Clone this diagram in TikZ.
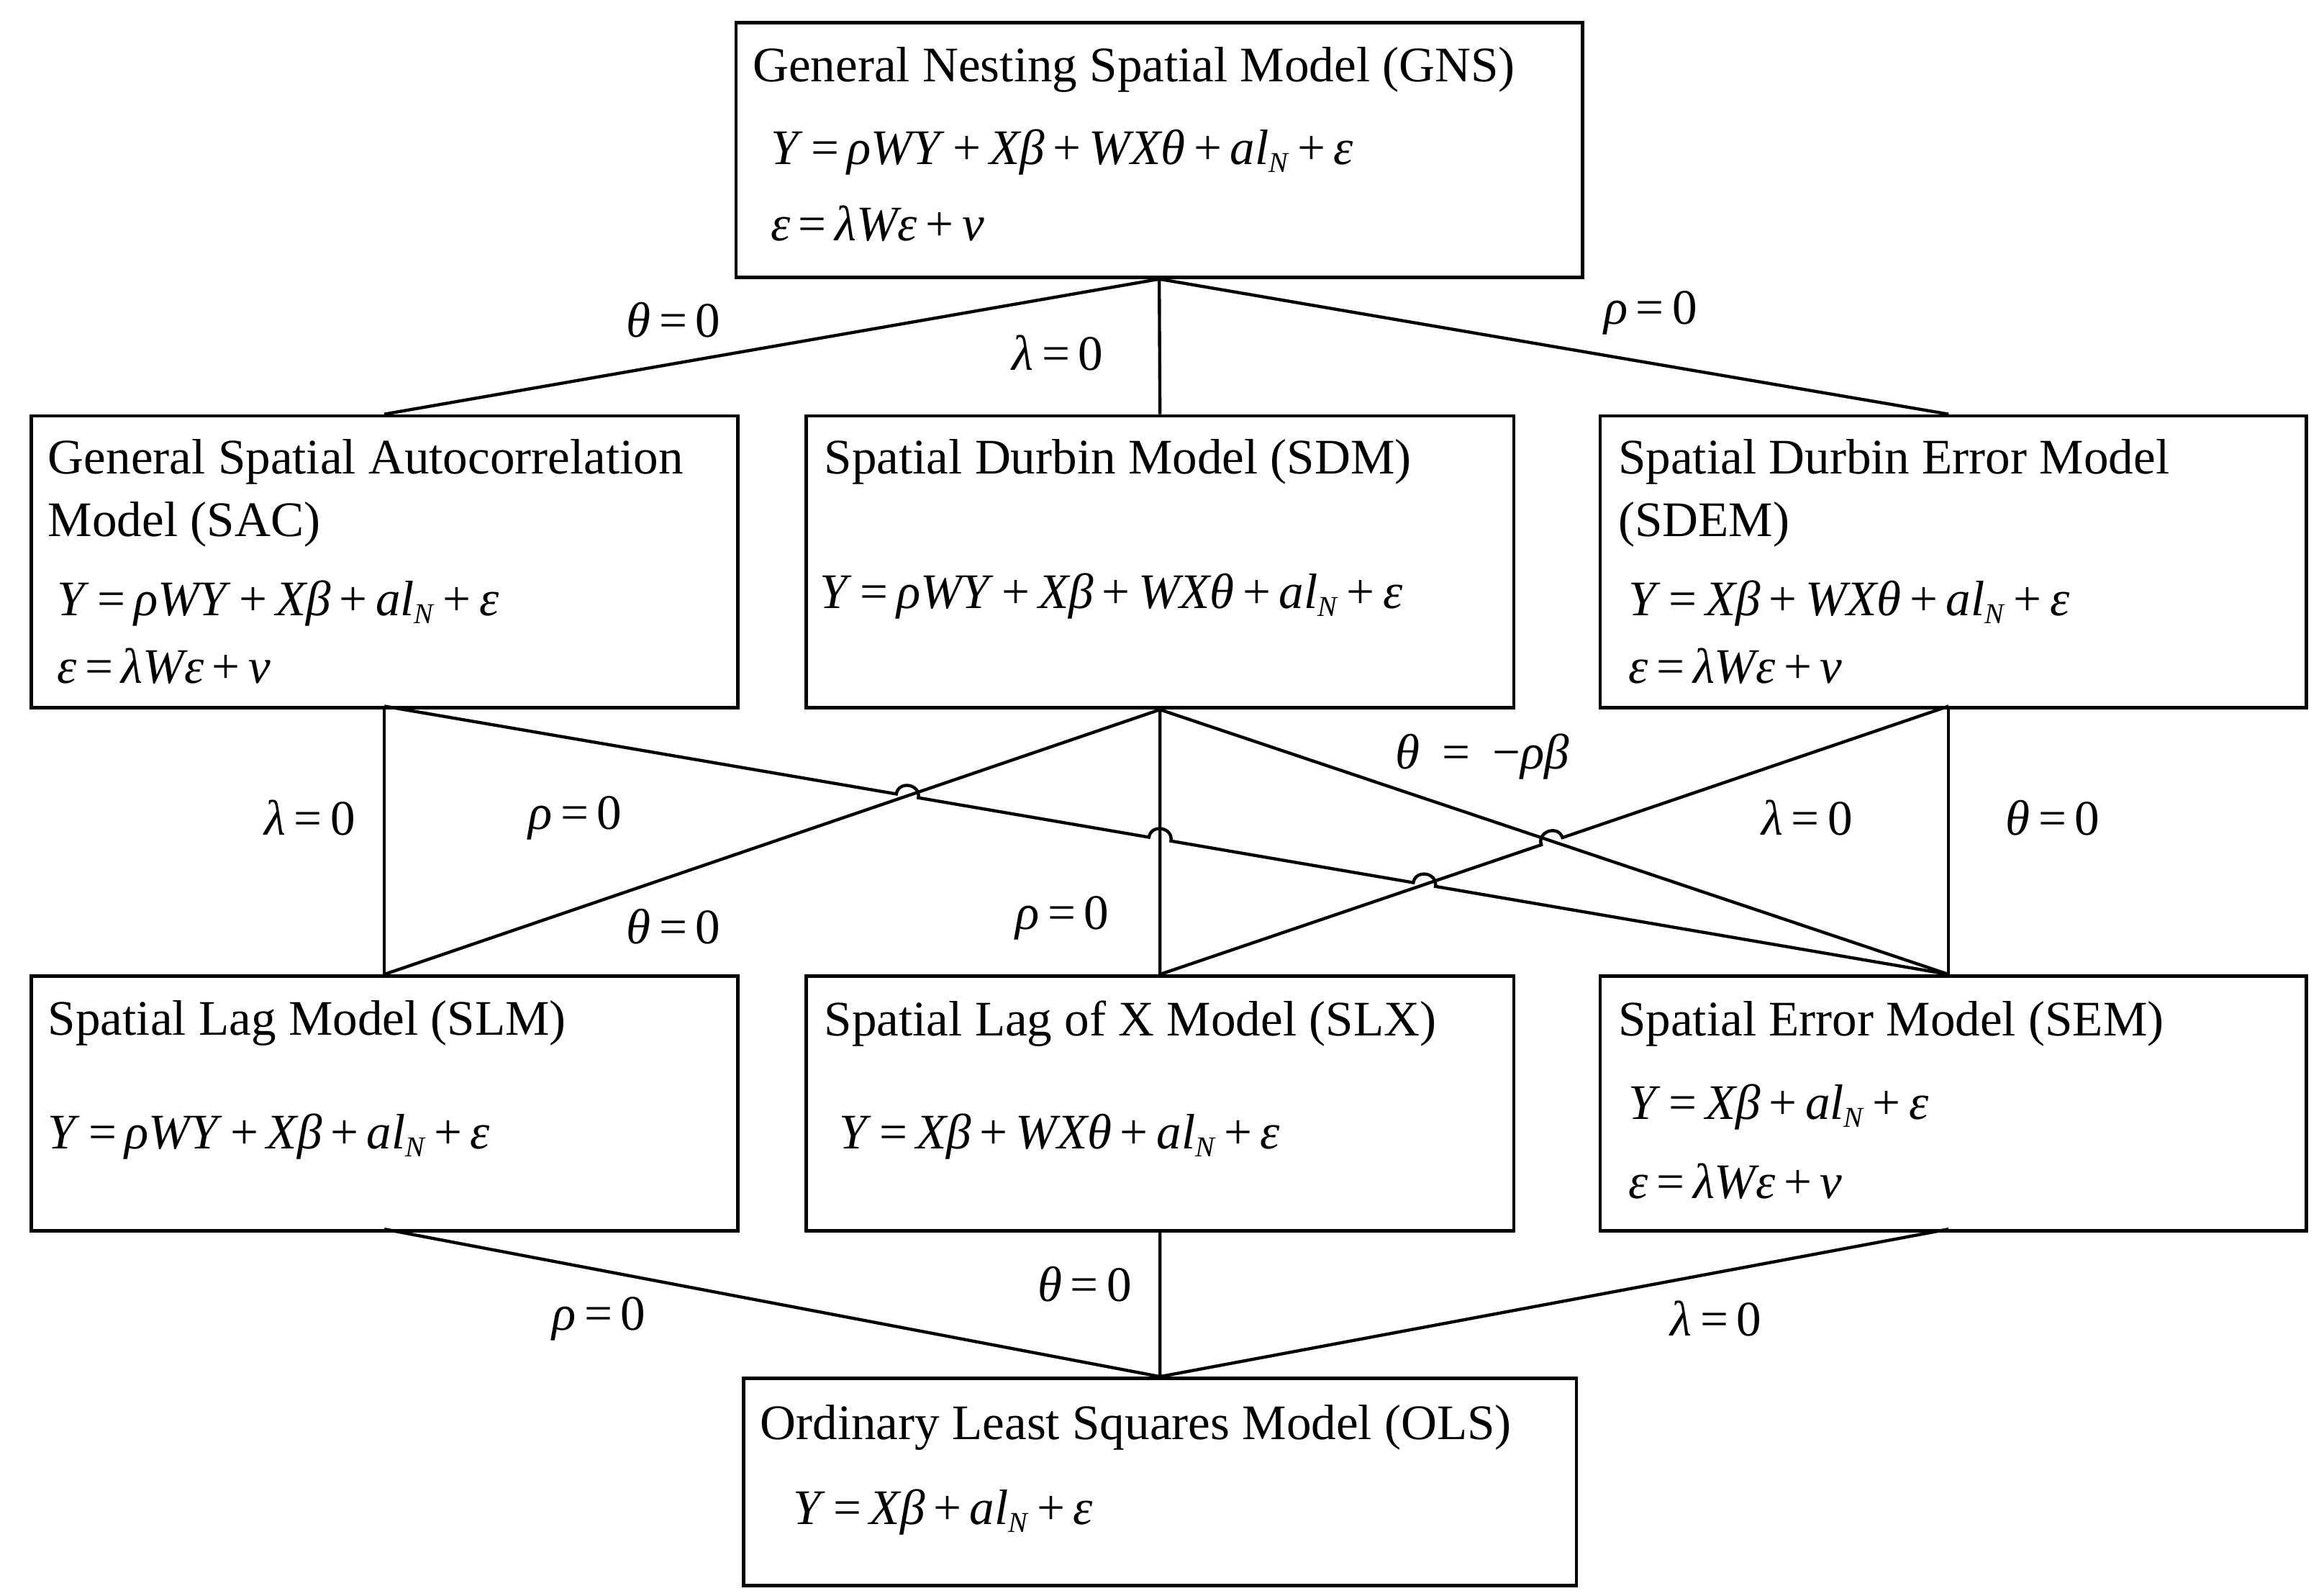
\documentclass[tikz,border=0pt]{standalone}
\usepackage{fontspec}
\setmainfont{Liberation Serif}
\newcommand{\iv}[1]{\textit{#1}}
\newcommand{\eqs}{\,=\,}
\newcommand{\pls}{\,+\,}
\newcommand{\alN}{\iv{al}\raisebox{-0.35ex}{\fontsize{11}{13}\selectfont\iv{N}}}
\usetikzlibrary{calc}
\begin{document}
\begin{tikzpicture}[x=0.02cm,y=-0.02cm,
  box/.style={draw,line width=1.3pt,inner sep=0pt,anchor=north west},
  txt/.style={anchor=west,inner sep=0pt,font=\fontsize{19}{23}\selectfont},
  lab/.style={inner sep=0pt,font=\fontsize{19}{23}\selectfont},
  ln/.style={line width=1.2pt},
  hop/.style={bend left=90,looseness=1.6}]
\useasboundingbox (0,0) rectangle (1560,1071);
\newcommand{\bx}[5]{\node[box,minimum width=#4*0.02cm,minimum height=#5*0.02cm] (#1) at (#2,#3) {};}
\bx{gns}{493}{14}{568}{171}
\bx{sac}{20}{278}{474}{196}
\bx{sdm}{540}{278}{475}{196}
\bx{sdem}{1073}{278}{474}{196}
\bx{slm}{20}{654}{474}{171}
\bx{slx}{540}{654}{475}{171}
\bx{sem}{1073}{654}{474}{171}
\bx{ols}{498}{924}{559}{139}
% texts
\node[txt] (t1) at (505,47) {General Nesting Spatial Model (GNS)};
\node[txt] (t2) at (517,102) {\iv{Y}\eqs\iv{ρWY}\pls\iv{Xβ}\pls\iv{WXθ}\pls\alN\pls\iv{ε}};
\node[txt] (t3) at (517,150) {\iv{ε}\eqs\iv{λWε}\pls\iv{v}};
\node[txt] (t4) at (32,310) {General Spatial Autocorrelation};
\node[txt] (t5) at (32,352) {Model (SAC)};
\node[txt] (t6) at (38,405) {\iv{Y}\eqs\iv{ρWY}\pls\iv{Xβ}\pls\alN\pls\iv{ε}};
\node[txt] (t7) at (38,447) {\iv{ε}\eqs\iv{λWε}\pls\iv{v}};
\node[txt] (t8) at (553,310) {Spatial Durbin Model (SDM)};
\node[txt] (t9) at (550,400) {\iv{Y}\eqs\iv{ρWY}\pls\iv{Xβ}\pls\iv{WXθ}\pls\alN\pls\iv{ε}};
\node[txt] (t10) at (1086,310) {Spatial Durbin Error Model};
\node[txt] (t11) at (1086,352) {(SDEM)};
\node[txt] (t12) at (1093,405) {\iv{Y}\eqs\iv{Xβ}\pls\iv{WXθ}\pls\alN\pls\iv{ε}};
\node[txt] (t13) at (1093,447) {\iv{ε}\eqs\iv{λWε}\pls\iv{v}};
\node[txt] (t14) at (32,687) {Spatial Lag Model (SLM)};
\node[txt] (t15) at (32,763) {\iv{Y}\eqs\iv{ρWY}\pls\iv{Xβ}\pls\alN\pls\iv{ε}};
\node[txt] (t16) at (553,687) {Spatial Lag of X Model (SLX)};
\node[txt] (t17) at (563,763) {\iv{Y}\eqs\iv{Xβ}\pls\iv{WXθ}\pls\alN\pls\iv{ε}};
\node[txt] (t18) at (1086,687) {Spatial Error Model (SEM)};
\node[txt] (t19) at (1093,743) {\iv{Y}\eqs\iv{Xβ}\pls\alN\pls\iv{ε}};
\node[txt] (t20) at (1093,793) {\iv{ε}\eqs\iv{λWε}\pls\iv{v}};
\node[txt] (t21) at (510,958) {Ordinary Least Squares Model (OLS)};
\node[txt] (t22) at (532,1015) {\iv{Y}\eqs\iv{Xβ}\pls\alN\pls\iv{ε}};
% anchor coordinates
\coordinate (gB) at (gns.south);
\coordinate (sacT) at (258,278); \coordinate (sacB) at (258,474);
\coordinate (sdmT) at (sdm.north); \coordinate (sdmB) at (sdm.south);
\coordinate (sdemT) at (1308,278); \coordinate (sdemB) at (1308,474);
\coordinate (slmT) at (258,654); \coordinate (slmB) at (258,825);
\coordinate (slxT) at (slx.north); \coordinate (slxB) at (slx.south);
\coordinate (semT) at (1308,654); \coordinate (semB) at (1308,825);
\coordinate (olsT) at (ols.north);
% top connectors
\draw[ln] (gB) -- (sacT) (gB) -- (sdmT) (gB) -- (sdemT);
% middle
\draw[ln] (sacB) -- (slmT);
\draw[ln] (sdmB) -- (slmT) (sdmB) -- (slxT) (sdmB) -- (semT);
\draw[ln] (sdemB) -- (semT);
% crossings
\coordinate (X1) at (intersection of sacB--semT and sdmB--slmT);
\coordinate (X2) at (intersection of sacB--semT and sdmB--slxT);
\coordinate (X3) at (intersection of sacB--semT and sdemB--slxT);
\coordinate (X4) at (intersection of slxT--sdemB and sdmB--semT);
\draw[ln] (sacB) -- ($(X1)!0.15cm!(sacB)$) to[hop] ($(X1)!0.15cm!(semT)$)
  -- ($(X2)!0.15cm!(sacB)$) to[hop] ($(X2)!0.15cm!(semT)$)
  -- ($(X3)!0.15cm!(sacB)$) to[hop] ($(X3)!0.15cm!(semT)$) -- (semT);
\draw[ln] (slxT) -- ($(X4)!0.15cm!(slxT)$) to[hop] ($(X4)!0.15cm!(sdemB)$) -- (sdemB);
% bottom
\draw[ln] (slmB) -- (olsT) (slxB) -- (olsT) (semB) -- (olsT);
% labels
\node[lab] (l1) at (452,215) {\iv{θ}\eqs0};
\node[lab] (l2) at (710,237) {\iv{λ}\eqs0};
\node[lab] (l3) at (1108,210) {\iv{ρ}\eqs0};
\node[lab] (l4) at (208,549) {\iv{λ}\eqs0};
\node[lab] (l5) at (386,549) {\iv{ρ}\eqs0};
\node[lab] (l6) at (452,622) {\iv{θ}\eqs0};
\node[lab] (l7) at (713,616) {\iv{ρ}\eqs0};
\node[lab] (l8) at (995,508) {\iv{θ}\;\eqs\;−\iv{ρβ}};
\node[lab] (l9) at (1213,549) {\iv{λ}\eqs0};
\node[lab] (l10) at (1378,549) {\iv{θ}\eqs0};
\node[lab] (l11) at (728,862) {\iv{θ}\eqs0};
\node[lab] (l12) at (402,885) {\iv{ρ}\eqs0};
\node[lab] (l13) at (1152,885) {\iv{λ}\eqs0};
\end{tikzpicture}
\end{document}
